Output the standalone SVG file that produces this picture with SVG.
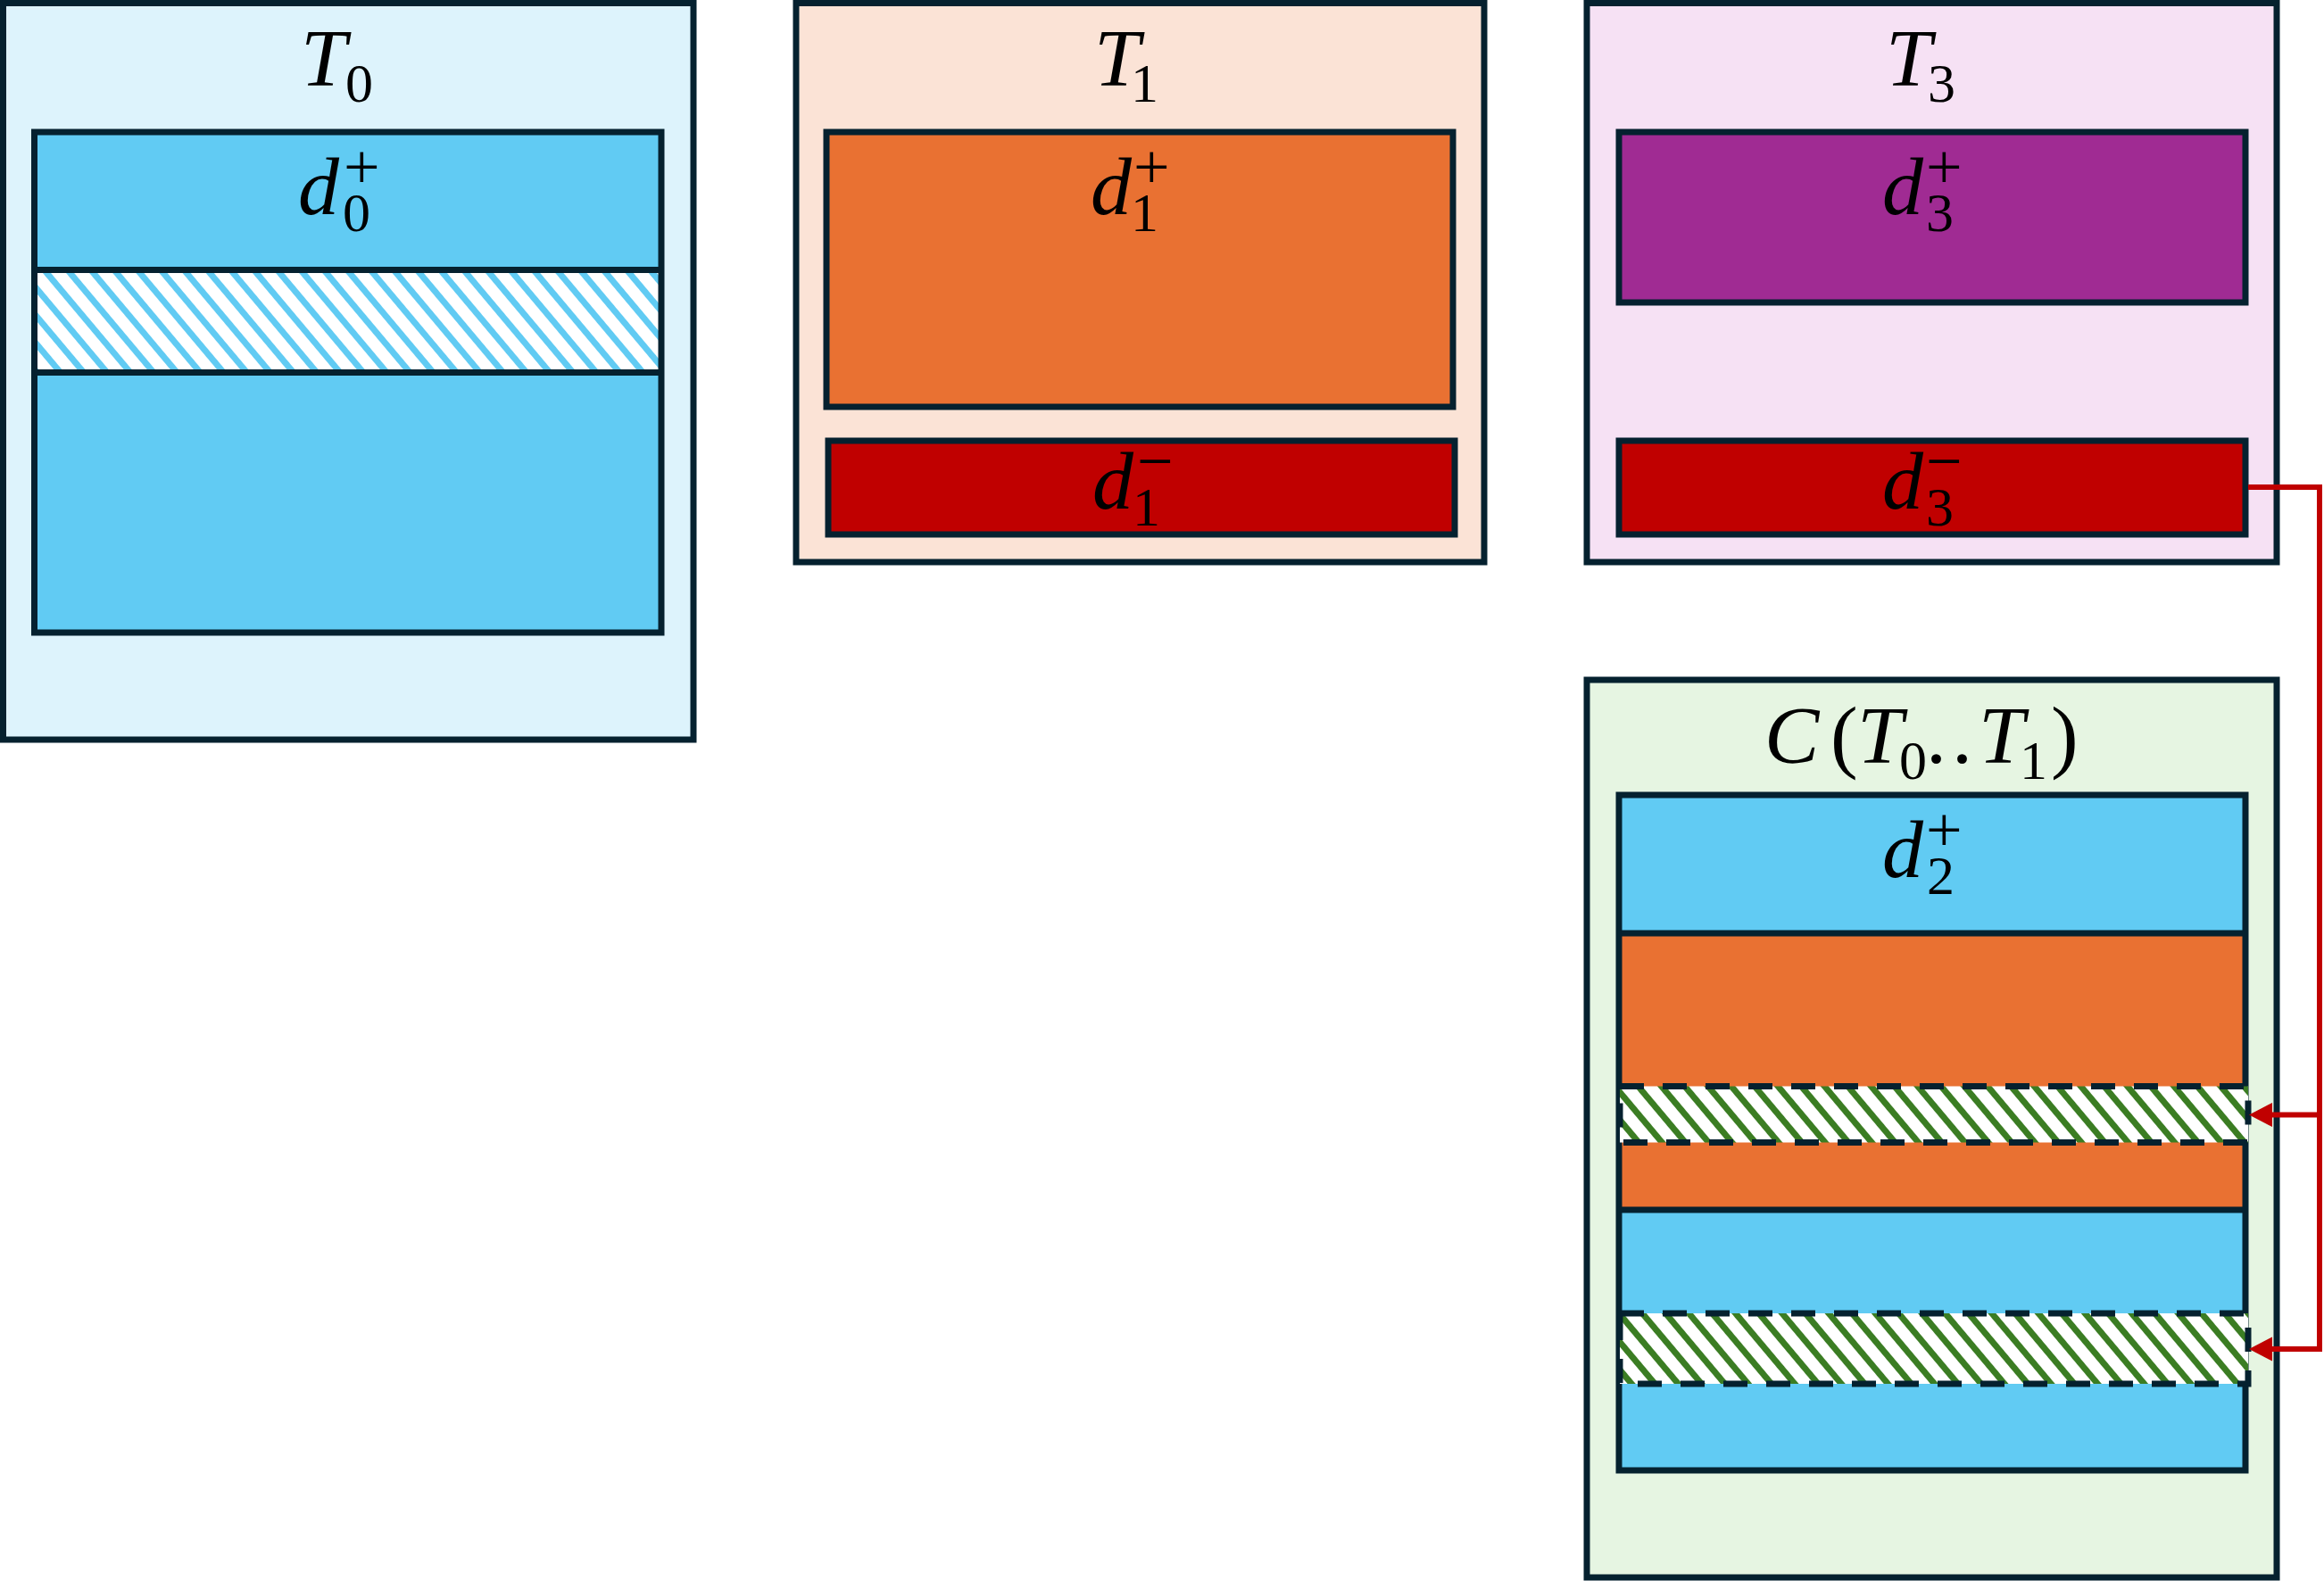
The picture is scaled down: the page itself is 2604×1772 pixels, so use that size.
<svg xmlns="http://www.w3.org/2000/svg" width="2604" height="1772" viewBox="0 0 2604 1772">
<defs>
<style>
.frame{stroke:#05212F;stroke-width:7;}
.edge{fill:none;stroke:#05212F;stroke-width:7;}
.dash{fill:none;stroke:#05212F;stroke-width:7;stroke-dasharray:27 21;}
.lbl{font-family:"Liberation Serif","Times New Roman",serif;fill:#000;}
.it{font-style:italic;font-size:92px;}
.rm{font-size:92px;}
.sub{font-size:62px;}
.sup{font-size:72px;}
.conn{fill:none;stroke:#C00000;stroke-width:6;}
.head{fill:#C00000;}
</style>
<pattern id="hatchBlue" patternUnits="userSpaceOnUse" width="20" height="20" patternTransform="rotate(-40)">
<rect width="20" height="20" fill="#FFFFFF"/>
<rect x="0" y="0" width="7" height="20" fill="#61CBF3"/>
</pattern>
<pattern id="hatchGreen" patternUnits="userSpaceOnUse" width="20" height="20" patternTransform="rotate(-40)">
<rect width="20" height="20" fill="#FFFFFF"/>
<rect x="0" y="0" width="7" height="20" fill="#3B7D23"/>
</pattern>
</defs>
<rect width="2604" height="1772" fill="#FFFFFF"/>

<g id="T0">
<rect class="frame" x="3.5" y="3.5" width="773.5" height="825.5" fill="#DDF3FC"/>
<rect x="38.5" y="148" width="702.5" height="561" fill="#61CBF3"/>
<rect x="38.5" y="302.5" width="702.5" height="115" fill="url(#hatchBlue)"/>
<rect class="edge" x="38.5" y="148" width="702.5" height="561"/>
<line class="edge" x1="38.5" y1="302.5" x2="741" y2="302.5"/>
<line class="edge" x1="38.5" y1="417.5" x2="741" y2="417.5"/>
<text class="lbl"><tspan class="it" x="337" y="96">T</tspan><tspan class="sub" x="387" y="114">0</tspan></text>
<text class="lbl"><tspan class="it" x="334" y="240">d</tspan><tspan class="sub" x="384" y="259">0</tspan><tspan class="sup" x="385" y="211">+</tspan></text>
</g>

<g id="T1">
<rect class="frame" x="892" y="3.5" width="771" height="626.5" fill="#FBE3D6"/>
<rect class="frame" x="926" y="148" width="702" height="308" fill="#E97132"/>
<rect class="frame" x="928" y="494" width="702" height="105" fill="#C00000"/>
<text class="lbl"><tspan class="it" x="1226" y="96">T</tspan><tspan class="sub" x="1267" y="114">1</tspan></text>
<text class="lbl"><tspan class="it" x="1222" y="240">d</tspan><tspan class="sub" x="1267" y="259">1</tspan><tspan class="sup" x="1270" y="211">+</tspan></text>
<text class="lbl"><tspan class="it" x="1224" y="570">d</tspan><tspan class="sub" x="1269" y="589">1</tspan><tspan class="sup" x="1274" y="541">−</tspan></text>
</g>

<g id="T3">
<rect class="frame" x="1778" y="3.5" width="773" height="626.5" fill="#F6E1F4"/>
<rect class="frame" x="1814" y="148" width="702" height="191" fill="#A02B93"/>
<rect class="frame" x="1814" y="494" width="702" height="105" fill="#C00000"/>
<text class="lbl"><tspan class="it" x="2113" y="96">T</tspan><tspan class="sub" x="2160" y="114">3</tspan></text>
<text class="lbl"><tspan class="it" x="2109" y="240">d</tspan><tspan class="sub" x="2158" y="259">3</tspan><tspan class="sup" x="2158" y="211">+</tspan></text>
<text class="lbl"><tspan class="it" x="2109" y="570">d</tspan><tspan class="sub" x="2158" y="589">3</tspan><tspan class="sup" x="2158" y="541">−</tspan></text>
</g>

<g id="C">
<rect class="frame" x="1778" y="762" width="773" height="1006" fill="#E6F5E2"/>
<rect x="1814" y="891" width="702" height="155" fill="#61CBF3"/>
<rect x="1814" y="1046" width="702" height="310" fill="#E97132"/>
<rect x="1814" y="1356" width="702" height="292" fill="#61CBF3"/>
<rect class="edge" x="1814" y="891" width="702" height="757"/>
<line class="edge" x1="1814" y1="1046" x2="2516" y2="1046"/>
<line class="edge" x1="1814" y1="1356" x2="2516" y2="1356"/>
<rect x="1815" y="1217.5" width="704" height="63" fill="url(#hatchGreen)"/>
<rect class="dash" x="1815" y="1217.5" width="704" height="63"/>
<rect x="1815" y="1472" width="704" height="79" fill="url(#hatchGreen)"/>
<rect class="dash" x="1815" y="1472" width="704" height="79"/>
<text class="lbl"><tspan class="it" x="1977" y="855">C</tspan><tspan class="rm" x="2051" y="855">(</tspan><tspan class="it" x="2081" y="855">T</tspan><tspan class="sub" x="2128" y="873">0</tspan><tspan class="rm" x="2158" y="855">.</tspan><tspan class="rm" x="2187" y="855">.</tspan><tspan class="it" x="2217" y="855">T</tspan><tspan class="sub" x="2263" y="873">1</tspan><tspan class="rm" x="2298" y="855">)</tspan></text>
<text class="lbl"><tspan class="it" x="2109" y="983">d</tspan><tspan class="sub" x="2159" y="1002">2</tspan><tspan class="sup" x="2158" y="954">+</tspan></text>
</g>

<g id="connectors">
<path class="conn" d="M2519 546 H2599 V1512 H2544"/>
<path class="conn" d="M2599 1249.5 H2544"/>
<polygon class="head" points="2520,1249.5 2546,1236 2546,1263"/>
<polygon class="head" points="2520,1512 2546,1498.5 2546,1525.5"/>
</g>
</svg>
